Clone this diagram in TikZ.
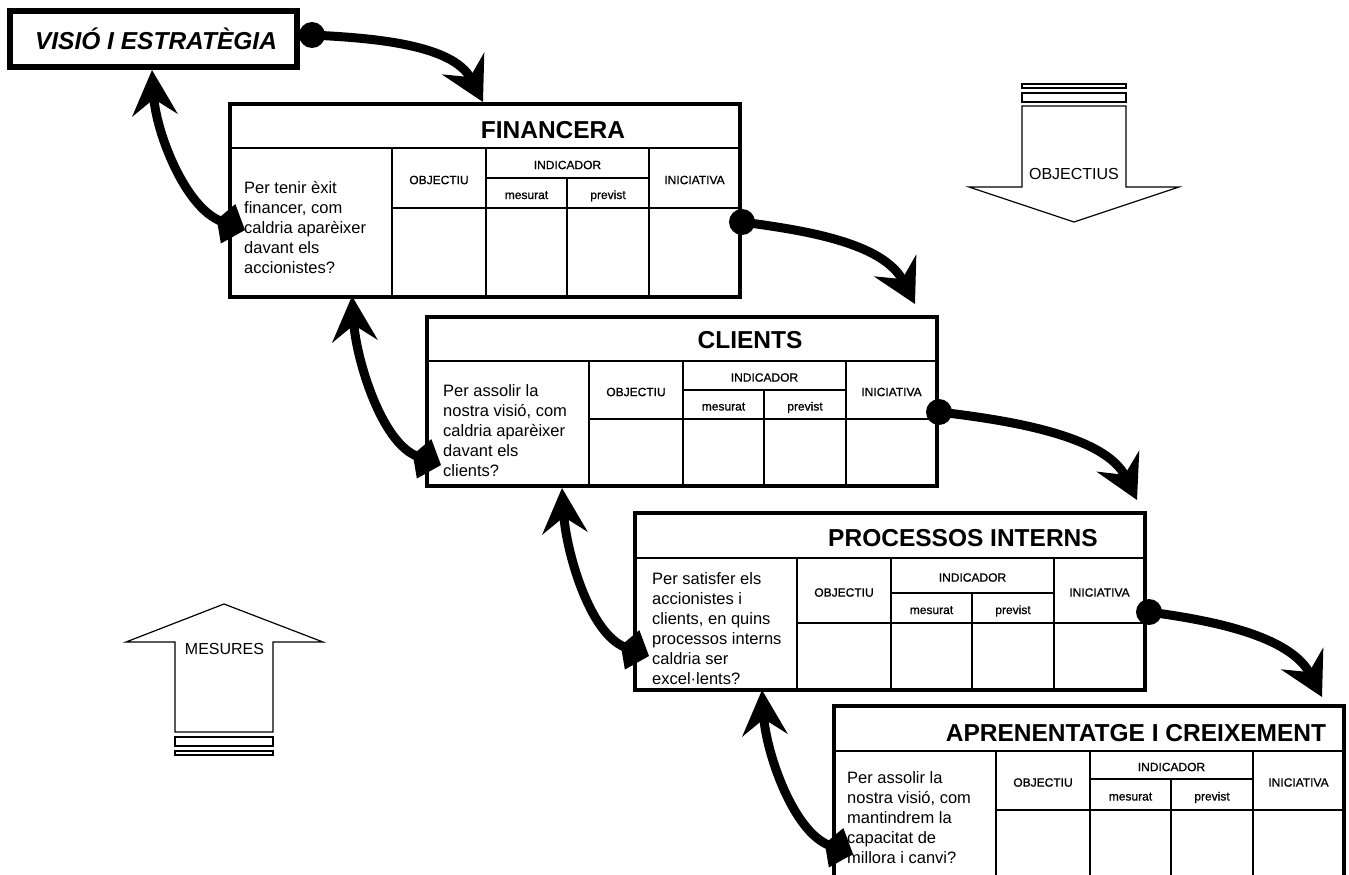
\documentclass[tikz,border=0pt]{standalone}
\usepackage{fontspec}
\setmainfont{Liberation Sans}
\newfontfamily\hdrfont[FakeBold=0.8]{Liberation Sans}
\usetikzlibrary{arrows.meta}

% One balanced-scorecard sheet: frame, grid rules and column headings.
% #1 name, #2 left, #3 top, #4 title rule, #5 indicator rule, #6 header rule, #7 bottom
\newcommand\bscsheet[7]{%
  \draw[rule] (#2,#4) -- (#2+510,#4);
  \draw[rule] (#2+162,#4) -- (#2+162,#7);
  \draw[rule] (#2+256,#4) -- (#2+256,#7);
  \draw[rule] (#2+419,#4) -- (#2+419,#7);
  \draw[rule] (#2+337,#5) -- (#2+337,#7);
  \draw[rule] (#2+256,#5) -- (#2+419,#5);
  \draw[rule] (#2+162,#6) -- (#2+510,#6);
  \node[frame, minimum height={(#7-#3)*1pt}] (#1) at (#2,#3) {};
  \node[hdr] (#1-obj) at (#2+209,{(#4+#6)/2+2}) {OBJECTIU};
  \node[hdr] (#1-ind) at (#2+337.5,{(#4+#5)/2+2}) {INDICADOR};
  \node[hdr, anchor=base] (#1-mes) at (#2+296.5,{(#5+#6)/2+6}) {mesurat};
  \node[hdr, anchor=base] (#1-pre) at (#2+378,{(#5+#6)/2+6}) {previst};
  \node[hdr] (#1-ini) at (#2+464.5,{(#4+#6)/2+2}) {INICIATIVA};
}

\begin{document}
\begin{tikzpicture}[x=1pt,y=-1pt,
  frame/.style={draw, line width=4pt, rectangle, anchor=north west,
    minimum width=510pt, inner sep=0pt, outer sep=0pt},
  rule/.style={line width=2.5pt},
  ttl/.style={font=\fontsize{24.5}{28}\selectfont\bfseries, anchor=base, inner sep=0pt},
  hdr/.style={font=\hdrfont\fontsize{12}{14}\selectfont, inner sep=0pt},
  qst/.style={font=\fontsize{16.5}{20}\selectfont, align=left, anchor=west, inner sep=0pt},
  dot/.style={circle, fill, inner sep=0pt, minimum size=26pt},
  fwd/.style={line width=9pt, -{Stealth[length=43pt,width=47pt,inset=15pt]}},
  back/.style={line width=9pt,
    {Kite[length=30pt,width=42pt,inset=12pt]}-{Stealth[length=45pt,width=45pt,inset=16pt]}},
  thin/.style={line width=1.2pt},
  big/.style={font=\fontsize{16}{19}\selectfont, inner sep=0pt},
]
\path[use as bounding box, fill=white] (0,0) rectangle (1349,875);
\clip (0,0) rectangle (1349,875);

% Vision and strategy
\node[draw, line width=6pt, minimum width=287pt, minimum height=56pt,
      inner sep=0pt, outer sep=0pt] (vis) at (153.5,39) {};
\node[font=\fontsize{24.5}{28}\selectfont\bfseries\itshape, anchor=base, inner sep=0pt]
  (vis-t) at (156,49) {VISIÓ I ESTRATÈGIA};

% The four perspectives
\bscsheet{fin}{230}{104}{148}{178}{208}{297}
\node[ttl] (fin-t) at (553,138) {FINANCERA};
\node[qst] (fin-q) at (244,228) {Per tenir èxit\\financer, com\\caldria aparèixer\\davant els\\accionistes?};

\bscsheet{cli}{427}{317}{361}{390}{419}{486}
\node[ttl] (cli-t) at (750,348) {CLIENTS};
\node[qst] (cli-q) at (443,431) {Per assolir la\\nostra visió, com\\caldria aparèixer\\davant els\\clients?};

\bscsheet{pro}{635}{513}{558}{593}{623}{690}
\node[ttl] (pro-t) at (963,546) {PROCESSOS INTERNS};
\node[qst] (pro-q) at (652,629) {Per satisfer els\\accionistes i\\clients, en quins\\processos interns\\caldria ser\\excel·lents?};

\bscsheet{apr}{834}{706}{751}{779}{810}{900}
\node[ttl] (apr-t) at (1136,741) {APRENENTATGE I CREIXEMENT};
\node[qst] (apr-q) at (847,818) {Per assolir la\\nostra visió, com\\mantindrem la\\capacitat de\\millora i canvi?};

% Cascade of objectives: vision -> financial -> clients -> processes -> learning
\node[dot] (d1) at (312,35) {};
\node[dot] (d2) at (742,222) {};
\node[dot] (d3) at (939,412) {};
\node[dot] (d4) at (1149,612) {};
\coordinate (t1) at (483,102);
\coordinate (t2) at (915,304);
\coordinate (t3) at (1137,500);
\coordinate (t4) at (1322,697);
\draw[fwd] (d1.center) .. controls +(60,3) and +(-30,-58) .. (t1);
\draw[fwd] (d2.center) .. controls +(60,8) and +(-32,-62) .. (t2);
\draw[fwd] (d3.center) .. controls +(68,8) and +(-32,-65) .. (t3);
\draw[fwd] (d4.center) .. controls +(60,8) and +(-32,-62) .. (t4);

% Feedback of measures back up the chain
\coordinate (pA) at (245,230);  \coordinate (qA) at (152,70);
\coordinate (pB) at (441,465);  \coordinate (qB) at (352,296);
\coordinate (pC) at (649,656);  \coordinate (qC) at (562,488);
\coordinate (pD) at (853,854);  \coordinate (qD) at (762,690);
\draw[back] (pA) .. controls +(-60,-22) and +(4,62) .. (qA);
\draw[back] (pB) .. controls +(-60,-22) and +(4,62) .. (qB);
\draw[back] (pC) .. controls +(-60,-22) and +(4,62) .. (qC);
\draw[back] (pD) .. controls +(-60,-22) and +(4,62) .. (qD);

% Objectives: downward block arrow
\draw[thin] (1022,106) -- (1126,106) -- (1126,187) -- (1179,187) -- (1074,222)
  -- (969,187) -- (1022,187) -- cycle;
\draw[thin] (1022,84) rectangle (1126,88);
\draw[thin] (1022,93) rectangle (1126,102);
\node[big] (obj-lbl) at (1074,173.5) {OBJECTIUS};

% Measures: upward block arrow
\draw[thin] (175,732) -- (273,732) -- (273,642) -- (323,642) -- (224,604)
  -- (126,642) -- (175,642) -- cycle;
\draw[thin] (175,737) rectangle (273,746);
\draw[thin] (175,751) rectangle (273,755);
\node[big] (mes-lbl) at (224.5,648.5) {MESURES};
\end{tikzpicture}
\end{document}
